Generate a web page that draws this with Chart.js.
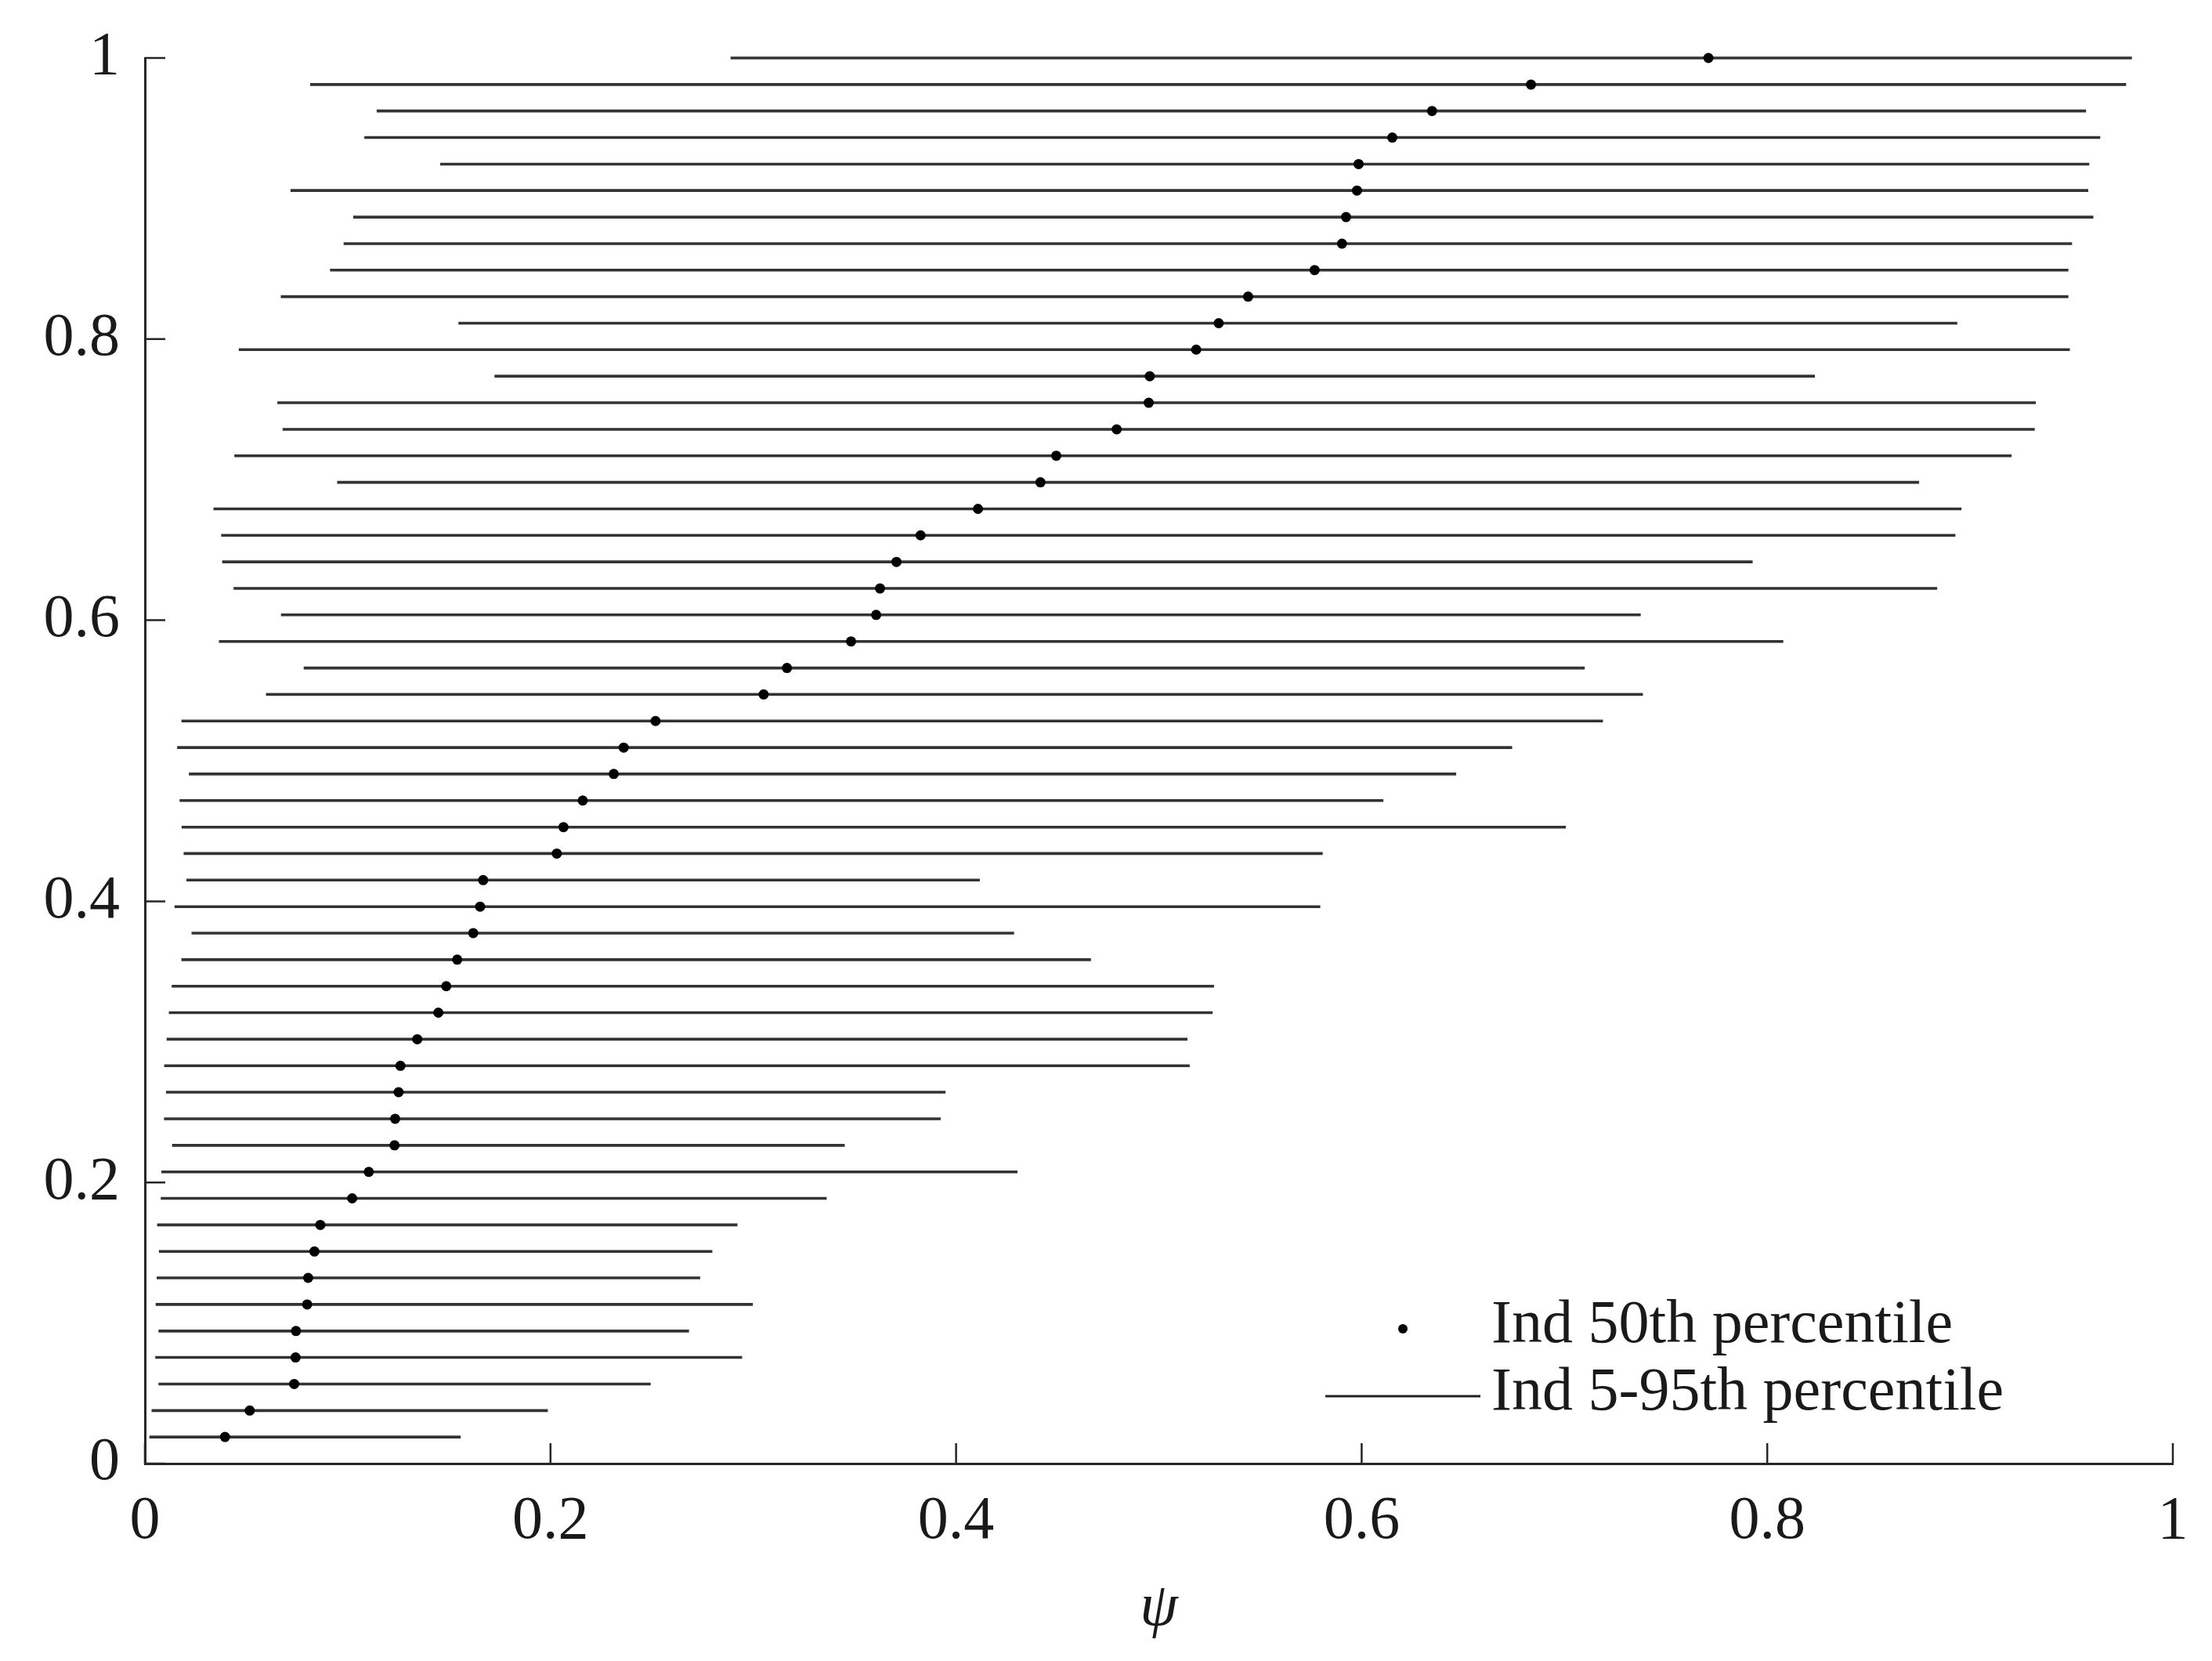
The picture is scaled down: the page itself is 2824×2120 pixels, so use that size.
<!DOCTYPE html>
<html>
<head>
  <title>Individual percentiles of psi</title>
  <script src="https://cdn.jsdelivr.net/npm/chart.js"></script>
  <style>
    body { margin: 0; background: #fff; }
    #wrap { width: 2824px; height: 2120px; }
  </style>
</head>
<body>
  <div id="wrap"><canvas id="psiChart"></canvas></div>
  <script>
    // Rank of each individual (cumulative share, k / 53), bottom to top
    const rankY = [0.0189, 0.0377, 0.0566, 0.0755, 0.0943, 0.1132, 0.1321, 0.1509, 0.1698, 0.1887,
                   0.2075, 0.2264, 0.2453, 0.2642, 0.2830, 0.3019, 0.3208, 0.3396, 0.3585, 0.3774,
                   0.3962, 0.4151, 0.4340, 0.4528, 0.4717, 0.4906, 0.5094, 0.5283, 0.5472, 0.5660,
                   0.5849, 0.6038, 0.6226, 0.6415, 0.6604, 0.6792, 0.6981, 0.7170, 0.7358, 0.7547,
                   0.7736, 0.7925, 0.8113, 0.8302, 0.8491, 0.8679, 0.8868, 0.9057, 0.9245, 0.9434,
                   0.9623, 0.9811, 1.0000];

    // 5th percentile of psi per individual
    const p05 = [0.0022, 0.0033, 0.0067, 0.0051, 0.0067, 0.0053, 0.0058, 0.0069, 0.0060, 0.0078,
                 0.0081, 0.0134, 0.0094, 0.0104, 0.0095, 0.0107, 0.0118, 0.0132, 0.0180, 0.0230,
                 0.0146, 0.0205, 0.0191, 0.0181, 0.0171, 0.0217, 0.0159, 0.0180, 0.0597, 0.0783,
                 0.0365, 0.0671, 0.0437, 0.0381, 0.0376, 0.0338, 0.0948, 0.0441, 0.0679, 0.0653,
                 0.1724, 0.0463, 0.1546, 0.0670, 0.0913, 0.0980, 0.1027, 0.0718, 0.1456, 0.1082,
                 0.1143, 0.0815, 0.2888];

    // median (50th percentile)
    const p50 = [0.0395, 0.0517, 0.0736, 0.0743, 0.0745, 0.0800, 0.0805, 0.0836, 0.0865, 0.1022,
                 0.1104, 0.1231, 0.1234, 0.1251, 0.1260, 0.1343, 0.1447, 0.1486, 0.1540, 0.1619,
                 0.1653, 0.1668, 0.2031, 0.2064, 0.2159, 0.2312, 0.2361, 0.2518, 0.3051, 0.3166,
                 0.3482, 0.3606, 0.3625, 0.3706, 0.3825, 0.4108, 0.4416, 0.4494, 0.4792, 0.4950,
                 0.4955, 0.5184, 0.5295, 0.5440, 0.5768, 0.5903, 0.5923, 0.5977, 0.5985, 0.6151,
                 0.6347, 0.6835, 0.7710];

    // 95th percentile
    const p95 = [0.1557, 0.1987, 0.2494, 0.2945, 0.2683, 0.2998, 0.2738, 0.2798, 0.2922, 0.3362,
                 0.4303, 0.3451, 0.3924, 0.3948, 0.5152, 0.5141, 0.5265, 0.5272, 0.4665, 0.4286,
                 0.5796, 0.4117, 0.5808, 0.7007, 0.6107, 0.6466, 0.6742, 0.7190, 0.7387, 0.7100,
                 0.8079, 0.7376, 0.8838, 0.7928, 0.8928, 0.8958, 0.8749, 0.9205, 0.9319, 0.9324,
                 0.8235, 0.9492, 0.8937, 0.9485, 0.9485, 0.9503, 0.9608, 0.9583, 0.9588, 0.9642,
                 0.9572, 0.9770, 0.9798];

    const xTicks = [0, 0.2, 0.4, 0.6, 0.8, 1];
    const yTicks = [0, 0.2, 0.4, 0.6, 0.8, 1];
    const seriesLabels = ['Ind 50th percentile', 'Ind 5-95th percentile'];
    const xTitle = 'ψ';

    const FONT = 'Liberation Serif';
    const INK = '#1a1a1a';

    // one line dataset, segments broken by null points
    const rangeData = [];
    rankY.forEach((y, i) => {
      rangeData.push({ x: p05[i], y: y }, { x: p95[i], y: y }, { x: null, y: null });
    });
    const medianData = rankY.map((y, i) => ({ x: p50[i], y: y }));

    // tick marks pointing into the plot, like the original
    const innerTicks = {
      id: 'innerTicks',
      afterDraw(chart) {
        const { ctx, chartArea, scales } = chart;
        ctx.save();
        ctx.strokeStyle = '#262626';
        ctx.lineWidth = 2.5;
        ctx.beginPath();
        xTicks.forEach(v => {
          const px = scales.x.getPixelForValue(v);
          ctx.moveTo(px, chartArea.bottom);
          ctx.lineTo(px, chartArea.bottom - 26);
        });
        yTicks.forEach(v => {
          const py = scales.y.getPixelForValue(v);
          ctx.moveTo(chartArea.left, py);
          ctx.lineTo(chartArea.left + 26, py);
        });
        ctx.stroke();
        ctx.restore();
      }
    };

    // legend sitting inside the axes, lower right
    const insideLegend = {
      id: 'insideLegend',
      afterDraw(chart) {
        const { ctx } = chart;
        const lineStart = 1692, lineEnd = 1890, textX = 1904;
        const row1 = 1696, row2 = 1782;
        ctx.save();
        ctx.fillStyle = '#000';
        ctx.beginPath();
        ctx.arc((lineStart + lineEnd) / 2, row1, 6, 0, Math.PI * 2);
        ctx.fill();
        ctx.strokeStyle = '#222';
        ctx.lineWidth = 3;
        ctx.beginPath();
        ctx.moveTo(lineStart, row2);
        ctx.lineTo(lineEnd, row2);
        ctx.stroke();
        ctx.fillStyle = INK;
        ctx.font = '78px "' + FONT + '"';
        ctx.textBaseline = 'alphabetic';
        ctx.textAlign = 'left';
        ctx.fillText(seriesLabels[0], textX, row1 + 17);
        ctx.fillText(seriesLabels[1], textX, row2 + 17);
        ctx.restore();
      }
    };

    const ctx = document.getElementById('psiChart').getContext('2d');
    new Chart(ctx, {
      type: 'scatter',
      data: {
        datasets: [
          {
            label: seriesLabels[0],
            data: medianData,
            pointRadius: 6.5,
            pointHoverRadius: 6.5,
            backgroundColor: '#000',
            borderWidth: 0,
            clip: false,
            order: 0
          },
          {
            label: seriesLabels[1],
            data: rangeData,
            showLine: true,
            spanGaps: false,
            borderColor: '#333',
            borderWidth: 3.6,
            pointRadius: 0,
            clip: false,
            order: 1
          }
        ]
      },
      options: {
        responsive: true,
        maintainAspectRatio: false,
        animation: false,
        devicePixelRatio: 1,
        layout: { padding: { top: 74, right: 50, bottom: 0, left: 0 } },
        plugins: {
          legend: { display: false },
          tooltip: { enabled: false }
        },
        scales: {
          x: {
            type: 'linear',
            min: 0,
            max: 1,
            afterFit(scale) { scale.height = 252; },
            afterBuildTicks(scale) { scale.ticks = xTicks.map(v => ({ value: v })); },
            grid: { display: false },
            border: { display: true, color: '#262626', width: 3 },
            ticks: {
              padding: 20,
              maxRotation: 0,
              color: INK,
              font: { family: FONT, size: 78 },
              callback: v => String(v)
            },
            title: {
              display: true,
              text: xTitle,
              color: INK,
              font: { family: FONT, size: 78, style: 'italic' },
              padding: { top: 0, bottom: 20 }
            }
          },
          y: {
            type: 'linear',
            min: 0,
            max: 1,
            afterFit(scale) { scale.width = 185; },
            afterBuildTicks(scale) { scale.ticks = yTicks.map(v => ({ value: v })); },
            grid: { display: false },
            border: { display: true, color: '#262626', width: 3 },
            ticks: {
              padding: 24,
              color: INK,
              font: { family: FONT, size: 78 },
              callback: v => String(v)
            }
          }
        }
      },
      plugins: [innerTicks, insideLegend]
    });
  </script>
</body>
</html>
